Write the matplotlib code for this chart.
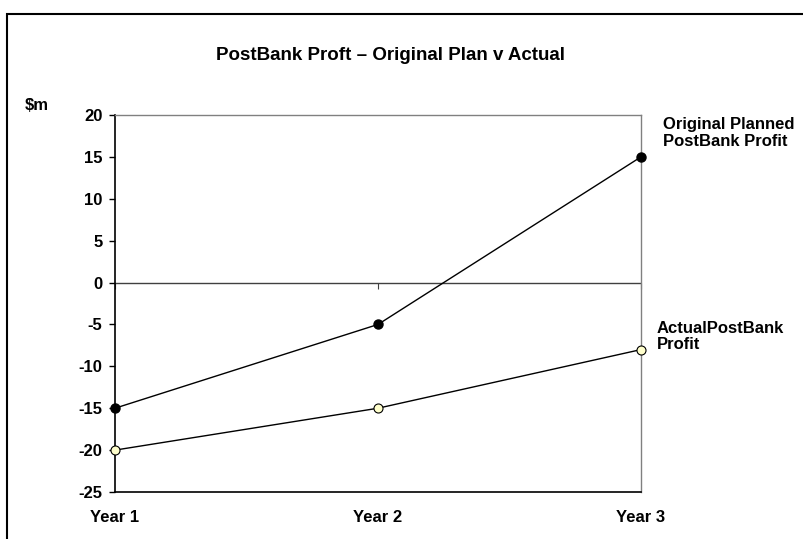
import matplotlib
matplotlib.use("Agg")
import matplotlib.pyplot as plt
from matplotlib.patches import Rectangle

plt.rcParams['font.family'] = ['Liberation Sans', 'DejaVu Sans']

categories = ["Year 1", "Year 2", "Year 3"]
planned = [-15, -5, 15]
actual = [-20, -15, -8]
planned_label = "Original Planned\nPostBank Profit"
actual_label = "ActualPostBank\nProfit"
yticks = [-25, -20, -15, -10, -5, 0, 5, 10, 15, 20]

fig = plt.figure(figsize=(8.04, 5.39), dpi=100)
ax = fig.add_axes([115/804, 1-492/539, (641-115)/804, (492-115)/539])

x = list(range(len(categories)))
ax.plot(x, planned, color='black', lw=1, marker='o', ms=6.5,
        mfc='black', mec='black', zorder=3, clip_on=False)
ax.plot(x, actual, color='black', lw=1, marker='o', ms=6.5,
        mfc='#FFFFCC', mec='black', mew=0.8, zorder=3, clip_on=False)

ax.set_xlim(0, 2)
ax.set_ylim(-25, 20)
ax.set_yticks(yticks)
ax.set_yticklabels([str(v) for v in yticks], fontsize=12, fontweight='bold')
ax.set_xticks(x)
ax.set_xticklabels(categories, fontsize=12, fontweight='bold')
ax.tick_params(axis='x', length=0, pad=13)
ax.tick_params(axis='y', length=4, direction='out', width=1, pad=5)

ax.axhline(0, color='#404040', lw=1, zorder=2)
sec = ax.secondary_xaxis(25/45)
sec.set_xticks(x)
sec.set_xticklabels([])
sec.tick_params(length=4, direction='in', color='#404040')
for s in sec.spines.values():
    s.set_visible(False)

for s in ['top', 'right']:
    ax.spines[s].set_color('#808080')
    ax.spines[s].set_linewidth(1)
for s in ['left', 'bottom']:
    ax.spines[s].set_color('black')
    ax.spines[s].set_linewidth(1.2)

ax.annotate(planned_label, xy=(x[-1], planned[-1]), xytext=(22, 40),
            textcoords='offset pixels', fontsize=12, fontweight='bold',
            va='top', ha='left', annotation_clip=False, linespacing=1.15)
ax.annotate(actual_label, xy=(x[-1], actual[-1]), xytext=(16, 29),
            textcoords='offset pixels', fontsize=12, fontweight='bold',
            va='top', ha='left', annotation_clip=False, linespacing=1.15)

fig.text(391/804, 1-60/539, "PostBank Proft \u2013 Original Plan v Actual",
         fontsize=13.5, fontweight='bold', ha='center', va='baseline')
fig.text(25/804, 1-110/539, "\\$m", fontsize=12, fontweight='bold',
         ha='left', va='baseline')

fig.patches.append(Rectangle((7/804, -0.1), 1.2, 1-14/539+0.1,
                             transform=fig.transFigure, fill=False,
                             edgecolor='black', lw=1.5))

fig.savefig("out.png", dpi=100)
